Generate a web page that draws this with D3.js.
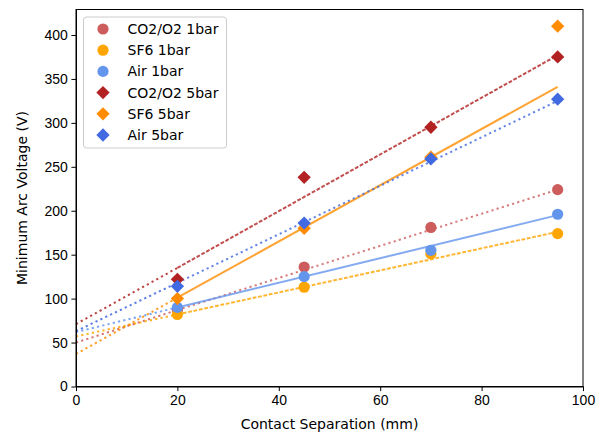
<!DOCTYPE html>
<html>
<head>
<meta charset="utf-8">
<script src="https://cdn.jsdelivr.net/npm/d3@7"></script>
<style>
  body { margin: 0; background: #fff; }
  svg { font-family: "DejaVu Sans", sans-serif; }
  .axis text { font-size: 14px; fill: #000; }
  .axis path, .axis line { stroke: #000; stroke-width: 1; }
</style>
</head>
<body>
<div id="chart"></div>
<script>
// data
let separation = [20, 45, 70, 95];
let seriesNames = ['CO2/O2 1bar', 'SF6 1bar', 'Air 1bar', 'CO2/O2 5bar', 'SF6 5bar', 'Air 5bar'];
let co2_1bar = [87, 136, 181, 224];
let sf6_1bar = [82, 113, 151, 174];
let air_1bar = [90, 125, 155, 196];
let co2_5bar = [122, 238, 295, 375];
let sf6_5bar = [100, 180, 261, 410];
let air_5bar = [114, 186, 259, 327];

// fitted trend lines, values at x = 0, 20 and 95
let fitX = [0, 20, 95];
let co2_1bar_fit = [50, 87, 224];
let sf6_1bar_fit = [57, 82, 176];
let air_1bar_fit = [62, 90, 195];
let co2_5bar_fit = [71, 135, 377];
let sf6_5bar_fit = [37, 101, 341];
let air_5bar_fit = [63, 118, 325];

let xTicks = [0, 20, 40, 60, 80, 100];
let yTicks = [0, 50, 100, 150, 200, 250, 300, 350, 400];

let config = {
    svg: { width: 605, height: 433 },
    plot: { x: 76, y: 9.5, width: 507, height: 377 }
};

let series = [
    { name: seriesNames[0], values: co2_1bar, fit: co2_1bar_fit, color: '#cd5c5c', shape: 'circle', dash: 'dot' },
    { name: seriesNames[1], values: sf6_1bar, fit: sf6_1bar_fit, color: '#ffa500', shape: 'circle', dash: 'dash' },
    { name: seriesNames[2], values: air_1bar, fit: air_1bar_fit, color: '#6495ed', shape: 'circle', dash: 'solid' },
    { name: seriesNames[3], values: co2_5bar, fit: co2_5bar_fit, color: '#b22222', shape: 'diamond', dash: 'dash' },
    { name: seriesNames[4], values: sf6_5bar, fit: sf6_5bar_fit, color: '#ff8c00', shape: 'diamond', dash: 'solid' },
    { name: seriesNames[5], values: air_5bar, fit: air_5bar_fit, color: '#4169e1', shape: 'diamond', dash: 'dot' }
];

let dashes = { dot: '2.2,3.2', dash: '3.8,1.7', solid: null };

let svg = d3.select('#chart')
    .append('svg')
        .attr('width', config.svg.width)
        .attr('height', config.svg.height);

let plot = svg.append('g')
        .attr('transform', translate(config.plot.x, config.plot.y));

let x = d3.scaleLinear().domain([0, 100]).range([0, config.plot.width]);
let y = d3.scaleLinear().domain([0, 429]).range([config.plot.height, 0]);

let circle = d3.symbol().type(d3.symbolCircle).size(Math.PI * 5.6 * 5.6);
let diamond = d3.symbol().type(d3.symbolSquare).size(9.4 * 9.4);

function marker(sel, s) {
    if (s.shape === 'circle') {
        sel.attr('d', circle);
    } else {
        sel.attr('d', diamond).attr('transform', function() {
            return d3.select(this).attr('transform') + ' rotate(45)';
        });
    }
}

let line = d3.line()
    .x((d) => x(d[0]))
    .y((d) => y(d[1]));

// trend lines
series.forEach((s) => {
    let pts = fitX.map((v, i) => [v, s.fit[i]]);
    plot.append('path')
        .attr('d', line(pts.slice(0, 2)))
        .attr('fill', 'none')
        .attr('stroke', s.color)
        .attr('stroke-opacity', 0.85)
        .attr('stroke-width', 2)
        .attr('stroke-dasharray', dashes.dot);
    plot.append('path')
        .attr('d', line(pts.slice(1)))
        .attr('fill', 'none')
        .attr('stroke', s.color)
        .attr('stroke-opacity', 0.8)
        .attr('stroke-width', 2)
        .attr('stroke-dasharray', dashes[s.dash]);
});

// markers
series.forEach((s) => {
    plot.selectAll(null)
        .data(separation.map((v, i) => [v, s.values[i]]))
        .enter()
        .append('path')
            .attr('transform', (d) => translate(x(d[0]), y(d[1])))
            .attr('fill', s.color)
            .each(function() { marker(d3.select(this), s); });
});

// axes
plot.append('g')
    .attr('class', 'axis')
    .attr('transform', translate(0, config.plot.height))
    .call(d3.axisBottom(x).tickValues(xTicks).tickSize(4.6).tickPadding(3.5).tickSizeOuter(0));

plot.append('g')
    .attr('class', 'axis')
    .call(d3.axisLeft(y).tickValues(yTicks).tickSize(4.6).tickPadding(3.5).tickSizeOuter(0));

plot.append('rect')
    .attr('width', config.plot.width)
    .attr('height', config.plot.height)
    .attr('fill', 'none')
    .attr('stroke', '#000')
    .attr('stroke-width', 1);

// axis titles
svg.append('text')
    .attr('x', config.plot.x + config.plot.width / 2)
    .attr('y', 429)
    .attr('text-anchor', 'middle')
    .style('font-size', '14px')
    .text('Contact Separation (mm)');

svg.append('text')
    .attr('transform', translate(27, config.plot.y + config.plot.height / 2) + ' rotate(-90)')
    .attr('text-anchor', 'middle')
    .style('font-size', '14px')
    .text('Minimum Arc Voltage (V)');

// legend
let legend = plot.append('g')
    .attr('transform', translate(7.5, 7.5));

legend.append('rect')
    .attr('width', 143)
    .attr('height', 131)
    .attr('rx', 3)
    .attr('fill', '#fff')
    .attr('fill-opacity', 0.8)
    .attr('stroke', '#ccc')
    .attr('stroke-width', 1);

series.forEach((s, i) => {
    let row = legend.append('g')
        .attr('transform', translate(0, 12 + i * 21.2));
    row.append('path')
        .attr('transform', translate(19.5, 0))
        .attr('fill', s.color)
        .each(function() { marker(d3.select(this), s); });
    row.append('text')
        .attr('x', 44)
        .attr('y', 5)
        .style('font-size', '14px')
        .text(s.name);
});

// helper method to make translating easier
function translate(x, y) {
    return 'translate(' + x + ',' + y + ')';
}
</script>
</body>
</html>
